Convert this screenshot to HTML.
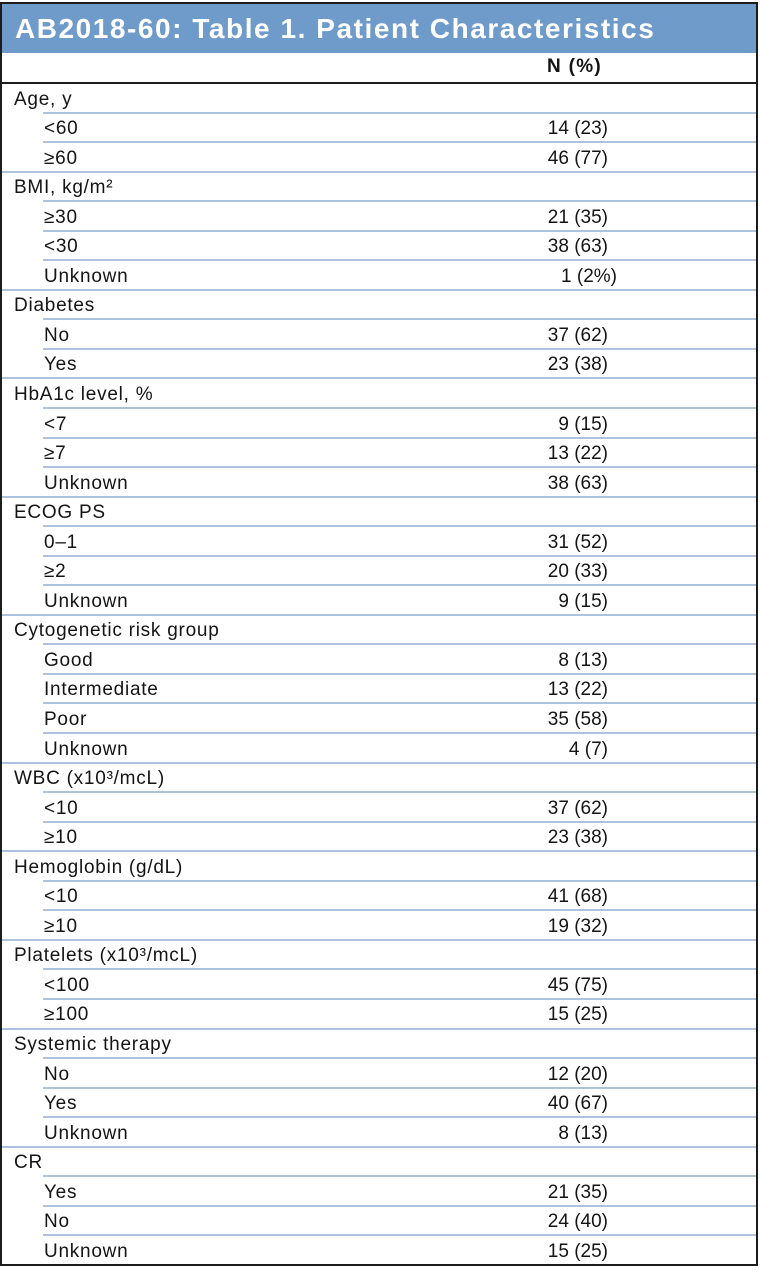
<!DOCTYPE html>
<html><head><meta charset="utf-8">
<style>
html,body{margin:0;padding:0;background:#fff;}
body{width:760px;height:1280px;position:relative;overflow:hidden;font-family:"Liberation Sans",Arial,sans-serif;color:#141414;}
.box{position:absolute;left:0;top:2px;width:758px;height:1264px;box-sizing:border-box;border:2px solid #1c1c1c;}
.title{position:absolute;left:0;top:0;width:754px;height:49px;background:#6e9bc9;color:#fff;font-weight:bold;font-size:28px;line-height:49px;letter-spacing:1.55px;white-space:nowrap;}
.title span{position:absolute;left:13px;top:-0.5px;}
.hdr{position:absolute;left:0;top:49px;width:754px;height:29px;}
.hdr span{position:absolute;left:545px;top:-1.5px;line-height:29px;font-weight:bold;font-size:19px;letter-spacing:1.3px;}
.hline{position:absolute;left:0;top:78px;width:754px;height:2px;background:#1c1c1c;}
.rows{position:absolute;left:0;top:79px;width:754px;}
.r{position:relative;height:29.55px;font-size:19px;white-space:nowrap;}
.r::before{content:"";position:absolute;top:-1px;left:0;right:0;height:2px;background:#aec2dd;}
.r.s::before{left:41px;}
.r.first::before{display:none;}
.l{position:absolute;left:12px;top:1.5px;line-height:30px;letter-spacing:0.75px;}
.s .l{left:42px;}
.v{position:absolute;right:148px;top:1.5px;line-height:30px;letter-spacing:0px;}
.v.w{right:139px;}
</style></head><body>
<div class="box">
  <div class="title"><span>AB2018-60: Table 1. Patient Characteristics</span></div>
  <div class="hdr"><span>N (%)</span></div>
  <div class="hline"></div>
  <div class="rows">
    <div class="r first"><span class="l">Age, y</span></div>
    <div class="r s"><span class="l">&lt;60</span><span class="v">14 (23)</span></div>
    <div class="r s"><span class="l">≥60</span><span class="v">46 (77)</span></div>
    <div class="r"><span class="l">BMI, kg/m²</span></div>
    <div class="r s"><span class="l">≥30</span><span class="v">21 (35)</span></div>
    <div class="r s"><span class="l">&lt;30</span><span class="v">38 (63)</span></div>
    <div class="r s"><span class="l">Unknown</span><span class="v w">1 (2%)</span></div>
    <div class="r"><span class="l">Diabetes</span></div>
    <div class="r s"><span class="l">No</span><span class="v">37 (62)</span></div>
    <div class="r s"><span class="l">Yes</span><span class="v">23 (38)</span></div>
    <div class="r"><span class="l">HbA1c level, %</span></div>
    <div class="r s"><span class="l">&lt;7</span><span class="v">9 (15)</span></div>
    <div class="r s"><span class="l">≥7</span><span class="v">13 (22)</span></div>
    <div class="r s"><span class="l">Unknown</span><span class="v">38 (63)</span></div>
    <div class="r"><span class="l">ECOG PS</span></div>
    <div class="r s"><span class="l">0–1</span><span class="v">31 (52)</span></div>
    <div class="r s"><span class="l">≥2</span><span class="v">20 (33)</span></div>
    <div class="r s"><span class="l">Unknown</span><span class="v">9 (15)</span></div>
    <div class="r"><span class="l">Cytogenetic risk group</span></div>
    <div class="r s"><span class="l">Good</span><span class="v">8 (13)</span></div>
    <div class="r s"><span class="l">Intermediate</span><span class="v">13 (22)</span></div>
    <div class="r s"><span class="l">Poor</span><span class="v">35 (58)</span></div>
    <div class="r s"><span class="l">Unknown</span><span class="v">4 (7)</span></div>
    <div class="r"><span class="l">WBC (x10³/mcL)</span></div>
    <div class="r s"><span class="l">&lt;10</span><span class="v">37 (62)</span></div>
    <div class="r s"><span class="l">≥10</span><span class="v">23 (38)</span></div>
    <div class="r"><span class="l">Hemoglobin (g/dL)</span></div>
    <div class="r s"><span class="l">&lt;10</span><span class="v">41 (68)</span></div>
    <div class="r s"><span class="l">≥10</span><span class="v">19 (32)</span></div>
    <div class="r"><span class="l">Platelets (x10³/mcL)</span></div>
    <div class="r s"><span class="l">&lt;100</span><span class="v">45 (75)</span></div>
    <div class="r s"><span class="l">≥100</span><span class="v">15 (25)</span></div>
    <div class="r"><span class="l">Systemic therapy</span></div>
    <div class="r s"><span class="l">No</span><span class="v">12 (20)</span></div>
    <div class="r s"><span class="l">Yes</span><span class="v">40 (67)</span></div>
    <div class="r s"><span class="l">Unknown</span><span class="v">8 (13)</span></div>
    <div class="r"><span class="l">CR</span></div>
    <div class="r s"><span class="l">Yes</span><span class="v">21 (35)</span></div>
    <div class="r s"><span class="l">No</span><span class="v">24 (40)</span></div>
    <div class="r s"><span class="l">Unknown</span><span class="v">15 (25)</span></div>
  </div>
</div>
</body></html>
